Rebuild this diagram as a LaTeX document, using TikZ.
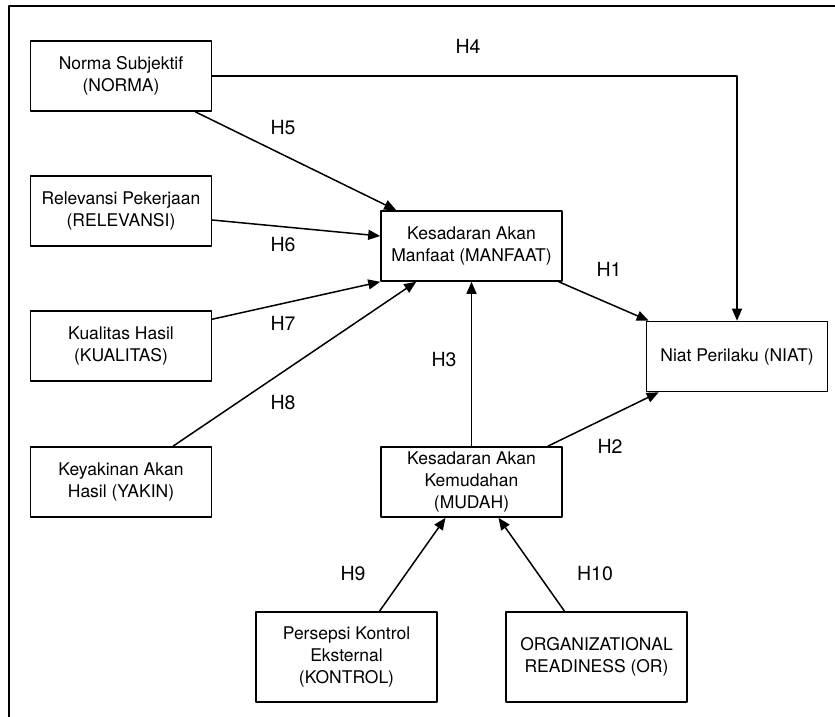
\documentclass[tikz,border=0pt]{standalone}
\usepackage{fontspec}
\setmainfont{TeX Gyre Heros}
\usetikzlibrary{arrows.meta}
\begin{document}
\begin{tikzpicture}[x=1pt,y=-1pt,>={Triangle[length=12pt,width=10pt]}, font=\fontsize{17.5}{22}\selectfont, line join=round, line cap=round,
	var/.style={draw, line width=1.6pt, align=center, minimum width=181pt, minimum height=70pt, inner sep=2pt},
	hyp/.style={font=\fontsize{19.5}{22}\selectfont},
	pth/.style={->, line width=1.5pt}]
				\useasboundingbox (0,0) rectangle (835,717);
				\draw [line width=2.6pt, line cap=butt] (835,6)--(9,6)--(9,717);
				\node[var] (norma) at (121,76) {Norma Subjektif\\(NORMA)};
				\node[var] (relev) at (121,211) {Relevansi Pekerjaan\\(RELEVANSI)};
				\node[var] (kual) at (121,346) {Kualitas Hasil\\(KUALITAS)};
				\node[var] (yakin) at (121,482) {Keyakinan Akan\\Hasil (YAKIN)};
				\node[var] (manfaat) at (471.5,246) {Kesadaran Akan\\Manfaat (MANFAAT)};
				\node[var] (niat) at (737,356.5) {Niat Perilaku (NIAT)};
				\node[var] (mudah) at (471.5,482) {Kesadaran Akan\\Kemudahan\\(MUDAH)};
				\node[var, minimum height=90pt] (kontrol) at (346.5,657) {Persepsi Kontrol\\Eksternal\\(KONTROL)};
				\node[var, minimum height=90pt] (orr) at (596.5,657) {ORGANIZATIONAL\\READINESS (OR)};
				% hipotesis
				\draw [pth] (manfaat.south east)++(-4pt,0) coordinate (m1) (m1)--([xshift=3pt]niat.north west);
				\draw [pth] ([xshift=-15pt]mudah.north east)--([xshift=13pt]niat.south west);
				\draw [pth] (mudah.north)--(manfaat.south);
				\draw [pth] (norma.east)-|(niat.north);
				\draw [pth] ([xshift=-17pt]norma.south east)--([xshift=16pt]manfaat.north west);
				\draw [pth] ([yshift=-9pt]relev.east)--([yshift=10pt]manfaat.west);
				\draw [pth] ([yshift=-9pt]kual.north east)--(manfaat.south west);
				\draw [pth] ([xshift=52pt]yakin.north)--([xshift=36pt]manfaat.south west);
				\draw [pth] ([xshift=33pt]kontrol.north)--([xshift=-26pt]mudah.south);
				\draw [pth] ([xshift=-32pt]orr.north)--([xshift=27pt]mudah.south);
				\node[hyp] (h1) at (609,269) {H1};
				\node[hyp] (h2) at (610,446) {H2};
				\node[hyp] (h3) at (444,360) {H3};
				\node[hyp] (h4) at (468,46) {H4};
				\node[hyp] (h5) at (283,128) {H5};
				\node[hyp] (h6) at (283,245) {H6};
				\node[hyp] (h7) at (283,323) {H7};
				\node[hyp] (h8) at (283,403) {H8};
				\node[hyp] (h9) at (353,574) {H9};
				\node[hyp] (h10) at (595,574) {H10};
			\end{tikzpicture}
\end{document}
